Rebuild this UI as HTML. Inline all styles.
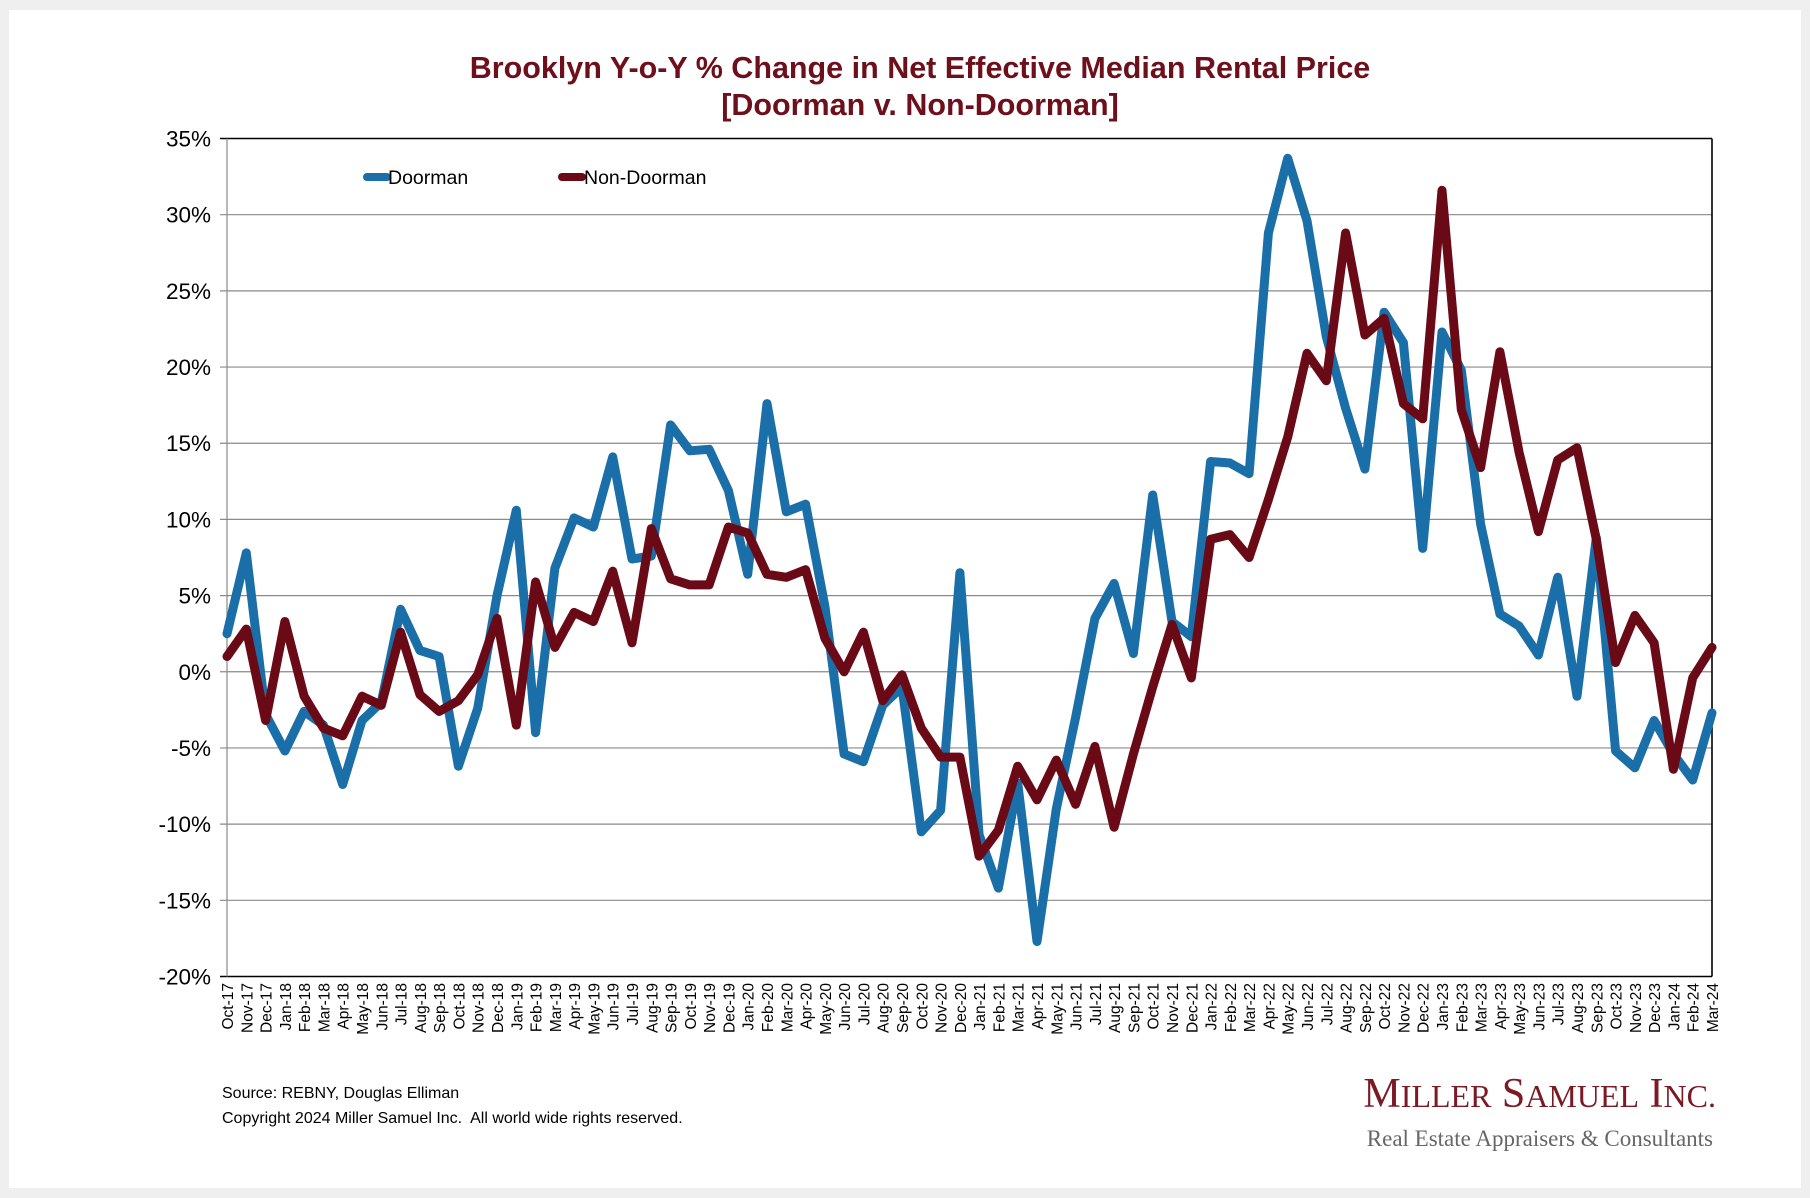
<!DOCTYPE html>
<html><head><meta charset="utf-8"><style>
body{margin:0;background:#efefef;}
svg{display:block;font-family:"Liberation Sans",Arial,sans-serif;}
</style></head><body>
<svg id="chart" width="1810" height="1198" xmlns="http://www.w3.org/2000/svg">
<rect x="0" y="0" width="1810" height="1198" fill="#efefef"/>
<rect x="9" y="10" width="1792" height="1178" fill="#ffffff"/>
<text x="920" y="78" text-anchor="middle" font-size="30.5" font-weight="bold" fill="#6e0f1c">Brooklyn Y-o-Y % Change in Net Effective Median Rental Price</text>
<text x="920" y="115" text-anchor="middle" font-size="30.5" font-weight="bold" fill="#6e0f1c">[Doorman v. Non-Doorman]</text>
<g id="grid"></g>
<g id="xlabels"></g>
<g id="lines"></g>
<g>
<line x1="367" y1="177" x2="387" y2="177" stroke="#1a6fa8" stroke-width="8" stroke-linecap="round"/>
<text x="388" y="184" font-size="19.5" fill="#000">Doorman</text>
<line x1="562" y1="177" x2="582" y2="177" stroke="#6b0a17" stroke-width="8" stroke-linecap="round"/>
<text x="584" y="184" font-size="19.5" fill="#000">Non-Doorman</text>
</g>
<text x="222" y="1098" font-size="16" fill="#000">Source: REBNY, Douglas Elliman</text>
<text x="222" y="1123" font-size="16" fill="#000" xml:space="preserve" style="white-space:pre">Copyright 2024 Miller Samuel Inc.  All world wide rights reserved.</text>
<text x="1716" y="1107" text-anchor="end" font-family="'Liberation Serif',serif" font-size="42" fill="#7a1a24">M<tspan font-size="32">ILLER</tspan> S<tspan font-size="32">AMUEL</tspan> I<tspan font-size="32">NC.</tspan></text>
<text x="1713" y="1146" text-anchor="end" font-family="'Liberation Serif',serif" font-size="23" fill="#666">Real Estate Appraisers &amp; Consultants</text>
</svg>
<script>
const months = ["Oct-17","Nov-17","Dec-17","Jan-18","Feb-18","Mar-18","Apr-18","May-18","Jun-18","Jul-18","Aug-18","Sep-18","Oct-18","Nov-18","Dec-18","Jan-19","Feb-19","Mar-19","Apr-19","May-19","Jun-19","Jul-19","Aug-19","Sep-19","Oct-19","Nov-19","Dec-19","Jan-20","Feb-20","Mar-20","Apr-20","May-20","Jun-20","Jul-20","Aug-20","Sep-20","Oct-20","Nov-20","Dec-20","Jan-21","Feb-21","Mar-21","Apr-21","May-21","Jun-21","Jul-21","Aug-21","Sep-21","Oct-21","Nov-21","Dec-21","Jan-22","Feb-22","Mar-22","Apr-22","May-22","Jun-22","Jul-22","Aug-22","Sep-22","Oct-22","Nov-22","Dec-22","Jan-23","Feb-23","Mar-23","Apr-23","May-23","Jun-23","Jul-23","Aug-23","Sep-23","Oct-23","Nov-23","Dec-23","Jan-24","Feb-24","Mar-24"];
const doorman = [2.5,7.8,-2.8,-5.2,-2.6,-3.5,-7.4,-3.2,-2.0,4.1,1.4,1.0,-6.2,-2.4,5.0,10.6,-4.0,6.8,10.1,9.5,14.1,7.4,7.6,16.2,14.5,14.6,11.9,6.4,17.6,10.5,11.0,4.3,-5.4,-5.9,-2.2,-1.0,-10.5,-9.1,6.5,-10.7,-14.2,-7.3,-17.7,-9.0,-3.0,3.5,5.8,1.2,11.6,3.3,2.3,13.8,13.7,13.0,28.8,33.7,29.6,22.0,17.3,13.3,23.6,21.6,8.1,22.3,19.8,9.7,3.8,3.0,1.1,6.2,-1.6,8.8,-5.2,-6.3,-3.2,-5.4,-7.1,-2.7];
const nonDoorman = [1.0,2.8,-3.2,3.3,-1.6,-3.7,-4.2,-1.6,-2.2,2.6,-1.5,-2.6,-1.9,-0.2,3.5,-3.5,5.9,1.6,3.9,3.3,6.6,1.9,9.4,6.1,5.7,5.7,9.5,9.1,6.4,6.2,6.7,2.2,0.0,2.6,-1.9,-0.2,-3.7,-5.6,-5.6,-12.1,-10.4,-6.2,-8.4,-5.8,-8.7,-4.9,-10.2,-5.4,-1.0,3.1,-0.4,8.7,9.0,7.5,11.3,15.4,20.9,19.1,28.8,22.1,23.2,17.6,16.6,31.6,17.2,13.4,21.0,14.4,9.2,13.9,14.7,8.7,0.6,3.7,1.9,-6.4,-0.4,1.6];
const yTicks = [35,30,25,20,15,10,5,0,-5,-10,-15,-20];

const NS="http://www.w3.org/2000/svg";
const L=227,R=1712,T=138.5,B=976.5,YMAX=35,YMIN=-20;
function xs(i){return L+(R-L)*i/(months.length-1);}
function ys(v){return T+(YMAX-v)/(YMAX-YMIN)*(B-T);}
function mk(tag,attrs,parent){const e=document.createElementNS(NS,tag);for(const k in attrs)e.setAttribute(k,attrs[k]);parent.appendChild(e);return e;}
const grid=document.getElementById('grid');
yTicks.forEach(v=>{
  const y=ys(v);
  const ln=mk('line',{x1:L-7,x2:R,y1:y,y2:y,stroke:(v===35||v===-20)?'#000':'#8a8a8a','stroke-width':(v===35||v===-20)?1.6:1.2},grid);
  
  
  const t=mk('text',{x:L-16,y:y+8,'text-anchor':'end','font-size':22.5,fill:'#000'},grid);
  t.textContent=v+'%';
  
  
});
const ax=mk('line',{x1:L,x2:L,y1:T,y2:B,stroke:'#8a8a8a','stroke-width':1.2},grid);


const rax=mk('line',{x1:R,x2:R,y1:T,y2:B,stroke:'#000','stroke-width':1.6},grid);


const xl=document.getElementById('xlabels');
months.forEach((m,i)=>{
  const x=xs(i)+6;
  const t=mk('text',{x:x,y:983,'text-anchor':'end','font-size':15.5,fill:'#000',transform:`rotate(-90 ${x} 983)`},xl);
  t.textContent=m;
  
  
});
const lines=document.getElementById('lines');
function series(vals,color,name){
  const pts=vals.map((v,i)=>xs(i).toFixed(1)+','+ys(v).toFixed(1)).join(' ');
  const p=mk('polyline',{points:pts,fill:'none',stroke:color,'stroke-width':9,'stroke-linejoin':'round','stroke-linecap':'round'},lines);
  
  
}
series(doorman,'#1a6fa8','doorman-line');
series(nonDoorman,'#6b0a17','non-doorman-line');
</script>
</body></html>
